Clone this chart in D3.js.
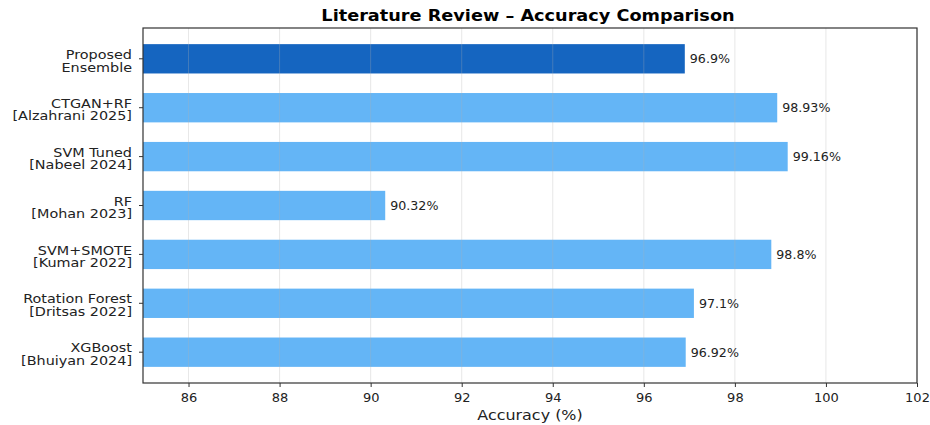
<!DOCTYPE html>
<html>
<head>
<meta charset="utf-8">
<title>Literature Review - Accuracy Comparison</title>
<script src="https://cdn.jsdelivr.net/npm/d3@7"></script>
<style>
  body { margin: 0; background: #fff; }
  svg { display: block; font-family: "DejaVu Sans", sans-serif; }
</style>
</head>
<body>
<div id="chart"></div>
<script>
  const width = 930, height = 425;

  // data, top to bottom
  const labels = [
    ["Proposed", "Ensemble"],
    ["CTGAN+RF", "[Alzahrani 2025]"],
    ["SVM Tuned", "[Nabeel 2024]"],
    ["RF", "[Mohan 2023]"],
    ["SVM+SMOTE", "[Kumar 2022]"],
    ["Rotation Forest", "[Dritsas 2022]"],
    ["XGBoost", "[Bhuiyan 2024]"]
  ];
  const accuracy = [96.9, 98.93, 99.16, 90.32, 98.8, 97.1, 96.92];
  const valueText = ["96.9%", "98.93%", "99.16%", "90.32%", "98.8%", "97.1%", "96.92%"];
  const xTicks = [86, 88, 90, 92, 94, 96, 98, 100, 102];

  const margin = {top: 28, right: 13, bottom: 42, left: 143};

  const svg = d3.select("#chart").append("svg")
    .attr("width", width)
    .attr("height", height);

  const x = d3.scaleLinear()
    .domain([85, 102])
    .range([margin.left, width - margin.right]);

  // band index -> pixel, matplotlib-like limits
  const y = d3.scaleLinear()
    .domain([-0.63, labels.length - 1 + 0.63])
    .range([margin.top, height - margin.bottom]);

  const barH = y(0.3) - y(-0.3);

  // the source text is a bit wider than DejaVu, stretch it horizontally
  function placed(sel, px, py, sx) {
    return sel.attr("transform", "translate(" + px + "," + py + ") scale(" + sx + ",1)");
  }

  // bars
  svg.append("g").selectAll("rect")
    .data(accuracy)
    .enter()
    .append("rect")
    .attr("x", x(85))
    .attr("y", (d, i) => y(i) - barH / 2)
    .attr("width", d => x(d) - x(85))
    .attr("height", barH)
    .attr("fill", (d, i) => i === 0 ? "#1565C0" : "#64B5F6");

  // grid (drawn over bars, faint)
  svg.append("g").selectAll("line")
    .data(xTicks)
    .enter()
    .append("line")
    .attr("x1", d => x(d)).attr("x2", d => x(d))
    .attr("y1", margin.top).attr("y2", height - margin.bottom)
    .attr("stroke", "#b0b0b0")
    .attr("stroke-opacity", 0.3)
    .attr("stroke-width", 1);

  // value labels
  svg.append("g").selectAll("text")
    .data(accuracy)
    .enter()
    .append("text")
    .attr("transform", (d, i) => "translate(" + (x(d) + 5) + "," + (y(i) + 4.5) + ") scale(1.02,1)")
    .attr("font-size", 12.4)
    .attr("fill", "#222")
    .text((d, i) => valueText[i]);

  // x axis
  const xAxis = svg.append("g")
    .attr("transform", "translate(0," + (height - margin.bottom) + ")")
    .call(d3.axisBottom(x).tickValues(xTicks).tickSize(4).tickPadding(6).tickFormat(d3.format("d")));
  xAxis.select(".domain").remove();
  xAxis.selectAll("text").attr("font-size", 13).attr("font-family", "DejaVu Sans").attr("fill", "#222");
  xAxis.selectAll("line").attr("stroke", "#333");

  // y axis ticks + two-line labels
  const yAxis = svg.append("g");
  labels.forEach((lab, i) => {
    yAxis.append("line")
      .attr("x1", margin.left - 4).attr("x2", margin.left)
      .attr("y1", y(i)).attr("y2", y(i))
      .attr("stroke", "#333");
    const t = yAxis.append("text")
      .attr("text-anchor", "end")
      .attr("font-size", 12.3)
      .attr("fill", "#222");
    placed(t, margin.left - 11, y(i) + 0.2, 1.17);
    t.append("tspan").attr("x", 0).attr("y", 0).text(lab[0]);
    t.append("tspan").attr("x", 0).attr("y", 12.6).text(lab[1]);
  });

  // frame
  svg.append("rect")
    .attr("x", margin.left).attr("y", margin.top)
    .attr("width", width - margin.left - margin.right)
    .attr("height", height - margin.top - margin.bottom)
    .attr("fill", "none")
    .attr("stroke", "#333")
    .attr("stroke-width", 1.2);

  // title
  placed(svg.append("text"), 528, 21, 1.18)
    .attr("text-anchor", "middle")
    .attr("font-size", 15)
    .attr("font-weight", "bold")
    .text("Literature Review \u2013 Accuracy Comparison");

  // x label
  placed(svg.append("text"), 530, 420, 1.14)
    .attr("text-anchor", "middle")
    .attr("font-size", 14)
    .attr("fill", "#222")
    .text("Accuracy (%)");
</script>
</body>
</html>
